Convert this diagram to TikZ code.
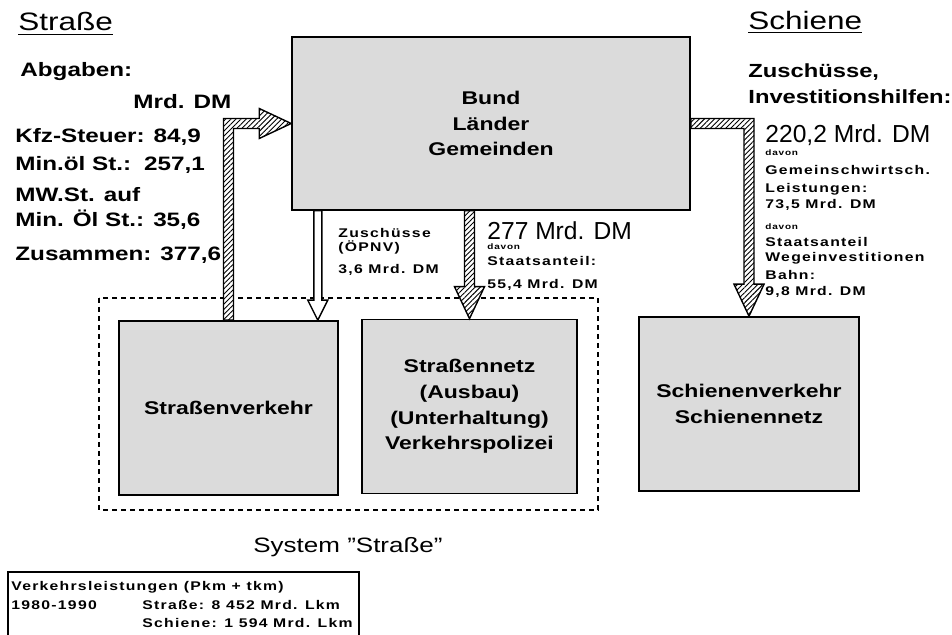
\documentclass[tikz,border=0pt]{standalone}
\usepackage{fontspec}
\setmainfont{Liberation Sans}[FakeStretch=1.25]
\newfontfamily\plainfont{Liberation Sans}
\newfontfamily\spacedfont{Liberation Sans}[FakeStretch=1.25, LetterSpace=10]
\usetikzlibrary{calc, patterns.meta}

\begin{document}
\begin{tikzpicture}[
  x=0.5pt, y=-0.5pt,
  box/.style={draw, line width=0.8pt, fill=black!14, align=center, inner sep=0pt,
    minimum width=109.5pt, minimum height=87pt,
    font=\fontsize{9.2}{12.8}\selectfont\bfseries},
  lbl/.style={anchor=west, inner sep=0pt, font=\fontsize{9.7}{12}\selectfont\bfseries},
  small/.style={anchor=west, inner sep=0pt, font=\spacedfont\fontsize{6.3}{7.5}\selectfont\bfseries},
  tiny/.style={anchor=west, inner sep=0pt, font=\spacedfont\fontsize{4}{5}\selectfont\bfseries},
  big/.style={anchor=west, inner sep=0pt, font=\plainfont\fontsize{12.3}{14}\selectfont},
  headline/.style={anchor=west, inner sep=0pt, font=\fontsize{12.6}{15}\selectfont},
  hatcharrow/.style={draw, line width=0.7pt, preaction={fill=white},
    pattern={Lines[angle=45, distance=1.8pt, line width=0.45pt]}},
  hollowarrow/.style={draw, line width=0.7pt, fill=white},
  sysframe/.style={draw, line width=0.6pt, dash pattern=on 2.5pt off 2pt},
]

% Background
\useasboundingbox (0,0) rectangle (952,635);
\fill[white] (0,0) rectangle (952,635);

% Titles
\node[headline] (tstr) at (18,24) {\underline{Straße}};
\node[headline] (tsch) at (748,22) {\underline{Schiene}};

% =============================================
% Boxes
% =============================================
\node[box, minimum width=199pt, minimum height=86.5pt] (bund) at (491,123.5)
  {Bund\\Länder\\Gemeinden};
\node[box] (strv) at (228.5,408) {Straßenverkehr};
\node[box, minimum width=107.5pt] (netz) at (469.5,406.5)
  {Straßennetz\\(Ausbau)\\(Unterhaltung)\\Verkehrspolizei};
\node[box, minimum width=110pt] (schv) at (749,404)
  {Schienenverkehr\\Schienennetz};

% System frame
\draw[sysframe] (99,298) rectangle (598,510);
\node[font=\fontsize{10.4}{12}\selectfont] (sys) at (348,547) {System "Straße"};

% =============================================
% Arrows
% =============================================
% Abgaben -> Bund
\draw[hatcharrow] ($(strv.north)+(-5,0)$) |- ($(bund.west)+(-32,-5)$) -- ++(0,-10)
  -- (bund.west) -- ++(-32,15) -- ++(0,-10) -| ($(strv.north)+(5,0)$) -- cycle;

% Zuschuesse OePNV
\coordinate (wtip) at ($(strv.north east)+(-21,0)$);
\draw[hollowarrow] (wtip) -- ++(-10,-20) -- ++(6,0) -- ($(wtip |- bund.south)+(-4,0)$)
  -- ++(8,0) -- ($(wtip)+(4,-20)$) -- ++(6,0) -- cycle;

% Bund -> Strassennetz
\draw[hatcharrow] (netz.north) -- ++(-15,-32) -- ++(10,0) -- ($(netz.north |- bund.south)+(-5,0)$)
  -- ++(10,0) -- ($(netz.north)+(5,-32)$) -- ++(10,0) -- cycle;

% Bund -> Schiene
\draw[hatcharrow] ($(bund.east)+(0,-5)$) -| ($(schv.north)+(5,-32)$) -- ++(10,0)
  -- (schv.north) -- ++(-15,-32) -- ++(10,0) |- ($(bund.east)+(0,5)$) -- cycle;

% =============================================
% Left: Abgaben
% =============================================
\node[lbl] (abg) at (20,72) {Abgaben:};
\node[lbl] (mrd) at (133,102) {Mrd. DM};
\node[lbl] (kfz) at (15,137) {Kfz-Steuer: 84,9};
\node[lbl] (miol) at (15,165) {Min.öl St.:\hspace{6.5pt}257,1};
\node[lbl] (mwst) at (15,195) {MW.St. auf};
\node[lbl] (mioel) at (15,220) {Min. Öl St.: 35,6};
\node[lbl] (zus) at (15,255) {Zusammen: 377,6};

% =============================================
% Middle labels
% =============================================
\node[small] (zopnv) at (338,233) {Zuschüsse};
\node[small] (opnv) at (338,247) {(ÖPNV)};
\node[small] (zmrd) at (338,270) {3,6 Mrd. DM};

\node[big] (sum277) at (487,231) {277 Mrd. DM};
\node[tiny] (dav1) at (487,247) {davon};
\node[small] (staat1) at (487,261) {Staatsanteil:};
\node[small] (st554) at (487,285) {55,4 Mrd. DM};

% =============================================
% Right: Schiene
% =============================================
\node[lbl, font=\fontsize{9.5}{12}\selectfont\bfseries] (zsch) at (748,72) {Zuschüsse,};
\node[lbl, font=\fontsize{9.5}{12}\selectfont\bfseries] (inv) at (748,97) {Investitionshilfen:};
\node[big] (sum220) at (765,135) {220,2 Mrd. DM};
\node[tiny] (dav2) at (765,153) {davon};
\node[small] (gem) at (765,170) {Gemeinschwirtsch.};
\node[small] (leist) at (765,189) {Leistungen:};
\node[small] (l735) at (765,205) {73,5 Mrd. DM};
\node[tiny] (dav3) at (765,227) {davon};
\node[small] (staat2) at (765,242) {Staatsanteil};
\node[small] (wege) at (765,258) {Wegeinvestitionen};
\node[small] (bahn) at (765,275) {Bahn:};
\node[small] (b98) at (765,292) {9,8 Mrd. DM};

% =============================================
% Legend
% =============================================
\draw[line width=0.7pt] (8,645) -- (8,572) -- (359,572) -- (359,645);
\node[small] (vl) at (11,587) {Verkehrsleistungen (Pkm + tkm)};
\node[small] (yrs) at (11,605) {1980-1990};
\node[small] (vstr) at (142,605) {Straße: 8 452 Mrd. Lkm};
\node[small] (vsch) at (142,623) {Schiene: 1 594 Mrd. Lkm};

\end{tikzpicture}
\end{document}
